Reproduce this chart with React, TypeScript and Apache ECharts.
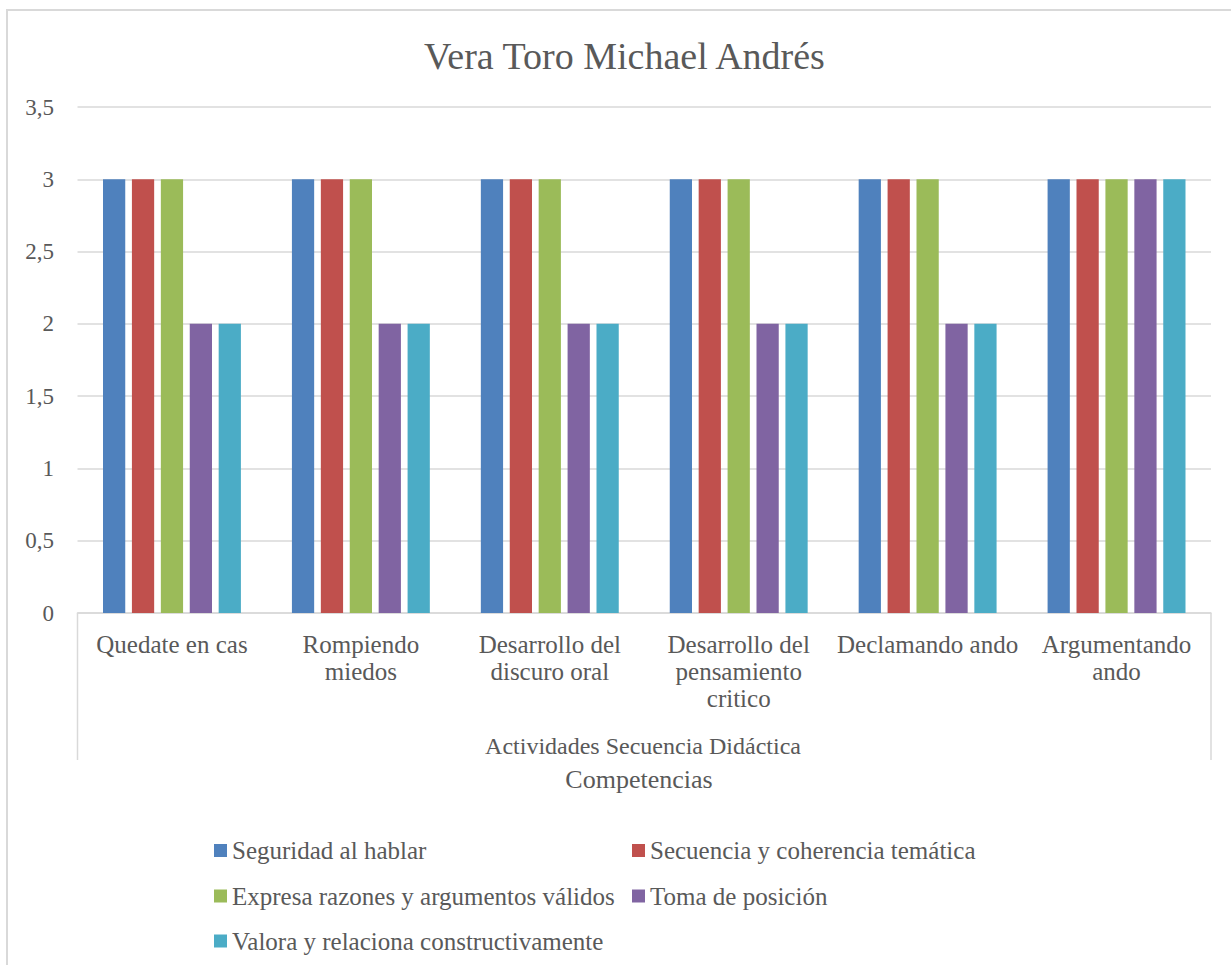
import React, { useEffect, useRef } from "react";
import * as echarts from "echarts";

const categories = [
  "Quedate en cas",
  "Rompiendo\nmiedos",
  "Desarrollo del\ndiscuro oral",
  "Desarrollo del\npensamiento\ncritico",
  "Declamando ando",
  "Argumentando\nando",
];

const seriesNames = [
  "Seguridad al hablar",
  "Secuencia y coherencia temática",
  "Expresa razones y argumentos válidos",
  "Toma de posición",
  "Valora y relaciona constructivamente",
];

const seguridad = [3, 3, 3, 3, 3, 3];
const secuencia = [3, 3, 3, 3, 3, 3];
const expresa = [3, 3, 3, 3, 3, 3];
const toma = [2, 2, 2, 2, 2, 3];
const valora = [2, 2, 2, 2, 2, 3];

const colors = ["#4f81bd", "#c0504d", "#9bbb59", "#8064a2", "#4bacc6"];

const title = "Vera Toro Michael Andrés";
const axisGroupLabel = "Actividades Secuencia Didáctica";
const axisName = "Competencias";

const FONT = "'Liberation Serif', 'Times New Roman', serif";
const TEXT = "#595959";
const LINE = "#d9d9d9";

export default function App() {
  const ref = useRef<HTMLDivElement>(null);

  useEffect(() => {
    if (!ref.current) return;
    const chart = echarts.init(ref.current, undefined, { renderer: "svg" });
    const values = [seguridad, secuencia, expresa, toma, valora];

    const gridLeft = 69.5;
    const gridRight = 30;
    const gridTop = 96;
    const gridBottom = 353;
    const W = 1233;
    const plotRight = W - gridRight;
    const plotBottom = 955 - gridBottom;

    const legendPos = [
      { left: 206, top: 825.5 },
      { left: 624, top: 825.5 },
      { left: 206, top: 871 },
      { left: 624, top: 871 },
      { left: 206, top: 916 },
    ];

    chart.setOption({
      animation: false,
      textStyle: { fontFamily: FONT },
      grid: { left: gridLeft, right: gridRight, top: gridTop, bottom: gridBottom, containLabel: false },
      legend: seriesNames.map((n, i) => ({
        data: [n],
        left: legendPos[i].left,
        top: legendPos[i].top,
        icon: "rect",
        itemWidth: 13,
        itemHeight: 13,
        padding: 0,
        textStyle: { fontFamily: FONT, fontSize: 25, color: TEXT, lineHeight: 28 },
        selectedMode: false,
      })),
      xAxis: {
        type: "category",
        data: categories,
        axisLine: { lineStyle: { color: LINE, width: 1.5 } },
        axisTick: { show: false },
        axisLabel: {
          interval: 0,
          fontFamily: FONT,
          fontSize: 25,
          lineHeight: 27,
          color: TEXT,
          margin: 18,
          align: "center",
        },
      },
      yAxis: {
        type: "value",
        min: 0,
        max: 3.5,
        interval: 0.5,
        axisLine: { show: false },
        axisTick: { show: false },
        splitLine: { lineStyle: { color: LINE, width: 1.5 } },
        axisLabel: {
          fontFamily: FONT,
          fontSize: 23,
          color: TEXT,
          margin: 23.5,
          formatter: (v: number) => String(v).replace(".", ","),
        },
      },
      series: seriesNames.map((n, i) => ({
        name: n,
        type: "bar",
        data: values[i],
        barGap: "30%",
        barCategoryGap: "27%",
        itemStyle: { color: colors[i] },
      })),
      graphic: [
        {
          type: "text",
          x: W / 2,
          y: 44.6,
          style: {
            text: title,
            font: `38px ${FONT}`,
            fill: TEXT,
            align: "center",
            verticalAlign: "middle",
          },
        },
        {
          type: "text",
          x: 635,
          y: 734.8,
          style: {
            text: axisGroupLabel,
            font: `24px ${FONT}`,
            fill: TEXT,
            align: "center",
            verticalAlign: "middle",
          },
        },
        {
          type: "text",
          x: 631,
          y: 768.2,
          style: {
            text: axisName,
            font: `26px ${FONT}`,
            fill: TEXT,
            align: "center",
            verticalAlign: "middle",
          },
        },
        {
          type: "line",
          shape: { x1: gridLeft, y1: plotBottom, x2: gridLeft, y2: 749 },
          style: { stroke: LINE, lineWidth: 1.5 },
        },
        {
          type: "line",
          shape: { x1: plotRight, y1: plotBottom, x2: plotRight, y2: 749 },
          style: { stroke: LINE, lineWidth: 1.5 },
        },
      ],
    });
    return () => chart.dispose();
  }, []);

  return (
    <div
      style={{
        position: "fixed",
        left: 6,
        top: 9,
        border: "2px solid #d9d9d9",
        background: "#fff",
      }}
    >
      <div ref={ref} style={{ width: 1233, height: 955 }} />
    </div>
  );
}
